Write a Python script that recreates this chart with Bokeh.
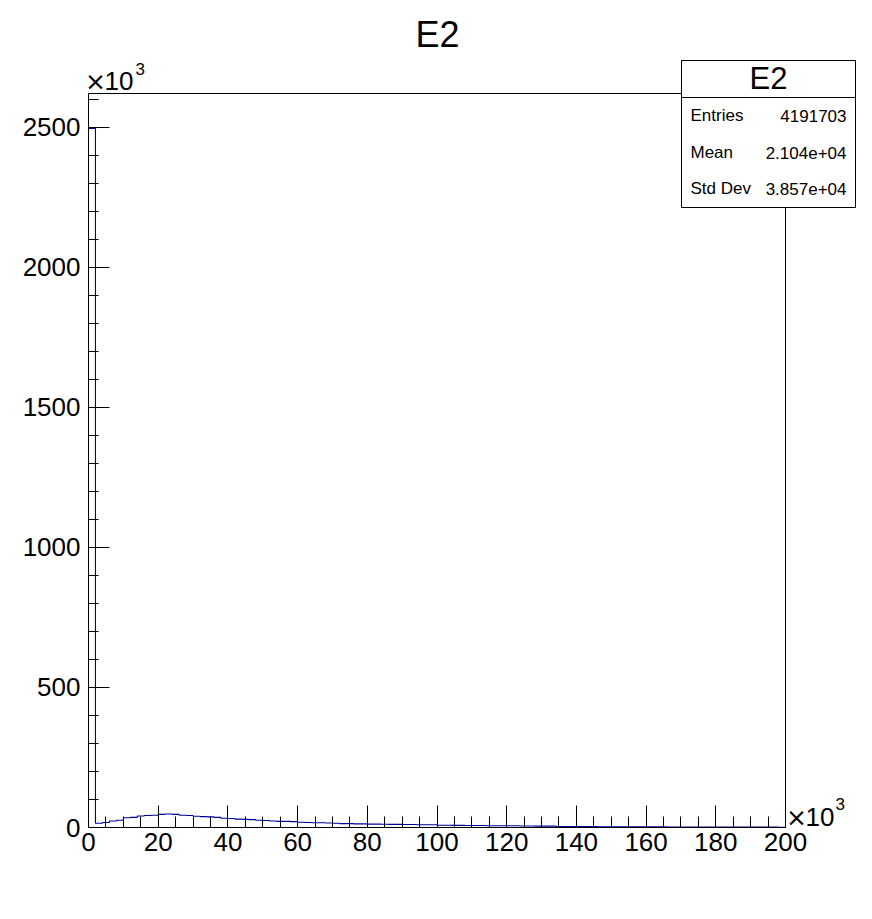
import numpy as np
from bokeh.plotting import figure
from bokeh.layouts import column
from bokeh.models import Label, BoxAnnotation, Range1d, FixedTicker, LinearAxis
from bokeh.embed import file_html
from bokeh.resources import INLINE

# ---------------- data (x in units of 10^3, counts in units of 10^3) ----------------
hist_title = "E2"
x_min, x_max, n_bins = 0, 200, 100
counts = [
    2496, 15, 18, 23, 26, 35, 36, 41, 43, 44,
    47, 48, 47, 44, 43, 40, 39, 38, 36, 33,
    32, 30, 29, 28, 26, 25, 23, 22, 22, 21,
    19, 18, 17, 17, 16, 15, 14, 14, 13, 13,
    12, 12, 11.5, 11, 11, 10.5, 10.5, 10, 10, 10,
    8, 8, 7.5, 7.5, 7, 7, 7, 6.5, 6.5, 6,
    6, 6, 5.5, 5.5, 5, 5, 5, 3.5, 3.5, 3.3,
    3.2, 3.1, 3.0, 2.9, 2.8, 2.7, 2.6, 2.5, 2.4, 2.3,
    2.2, 2.2, 2.1, 2.0, 2.0, 1.9, 1.8, 1.8, 1.7, 1.6,
    1.6, 1.5, 1.5, 1.4, 1.4, 1.3, 1.3, 1.2, 1.2, 1.1,
]
x_ticks = [0, 20, 40, 60, 80, 100, 120, 140, 160, 180, 200]
x_minor = list(range(0, 201, 5))
y_ticks = [0, 500, 1000, 1500, 2000, 2500]
y_minor = list(range(0, 2601, 100))
y_top = 2621
stats_names = ["Entries", "Mean", "Std Dev"]
stats_values = ["4191703", "2.104e+04", "3.857e+04"]

FONT = "Liberation Sans"

# ---------------- geometry (canvas pixels) ----------------
FL, FR, FT, FB = 88, 785, 93, 827
W, H = 856, 903

p = figure(width=W, height=H, x_range=Range1d(x_min, x_max), y_range=Range1d(0, y_top),
           output_backend="svg", toolbar_location=None, title=None,
           min_border_left=FL, min_border_right=W - FR,
           min_border_top=FT, min_border_bottom=H - FB)
p.outline_line_color = None
p.background_fill_color = "white"
p.border_fill_color = "white"
p.grid.visible = False

xa = p.below[0]
ya = p.left[0]
xa.ticker = FixedTicker(ticks=x_ticks, minor_ticks=x_minor)
ya.ticker = FixedTicker(ticks=y_ticks, minor_ticks=y_minor)
for ax, maj, mnr in ((xa, 22, 11), (ya, 21, 10)):
    ax.major_tick_in = maj
    ax.major_tick_out = 0
    ax.minor_tick_in = mnr
    ax.minor_tick_out = 0
    ax.axis_line_color = "black"
    ax.major_tick_line_color = "black"
    ax.minor_tick_line_color = "black"
    ax.major_label_text_font = FONT
    ax.major_label_text_font_size = "26px"
    ax.major_label_text_color = "black"
xa.major_label_standoff = 5
ya.major_label_standoff = 8

for loc in ("above", "right"):
    fa = LinearAxis(ticker=FixedTicker(ticks=[]), major_label_text_font_size="0px",
                    axis_line_color="black", major_tick_line_color=None,
                    minor_tick_line_color=None)
    p.add_layout(fa, loc)

# histogram outline
edges = np.linspace(x_min, x_max, n_bins + 1)
xs = [edges[0]]
ys = [0.0]
for i, c in enumerate(counts):
    xs += [edges[i], edges[i + 1]]
    ys += [c, c]
p.line(xs, ys, line_color="#000099", line_width=1.1)

# ---------------- transparent overlay for texts outside the frame ----------------
q = figure(width=W, height=H, x_range=Range1d(0, W), y_range=Range1d(H, 0),
           x_axis_location=None, y_axis_location=None, min_border=0,
           output_backend="svg", toolbar_location=None, title=None,
           margin=(-H, 0, 0, 0))
try:
    q.frame_align = False
except Exception:
    pass
q.background_fill_alpha = 0
q.border_fill_alpha = 0
q.outline_line_color = None
q.grid.visible = False


def label(x, y, text, size, align="left", font=FONT):
    q.add_layout(Label(x=x, y=y, text=text,
                       text_align=align, text_baseline="middle", text_font=font,
                       text_font_size=size, text_color="black"))


# title
label(437, 34, hist_title, "36px", align="center")

# x10^3 exponents
for (mx, nx, cy, sx, scy) in ((95, 104, 80, 135, 68), (796, 805, 816, 835, 803)):
    label(mx, cy + 1, "×", "25px", align="center", font="DejaVu Sans")
    label(nx, cy, "10", "26px")
    label(sx, scy, "3", "17px")

# stats box
box_kw = dict(line_color="black", line_width=1, line_alpha=1.0)
q.add_layout(BoxAnnotation(left=681, right=855, top=60, bottom=207,
                           fill_color="white", fill_alpha=1.0, **box_kw))
q.add_layout(BoxAnnotation(left=681, right=855, top=60, bottom=97,
                           fill_alpha=0.0, **box_kw))
label(768, 78, hist_title, "31px", align="center")
row_centers = [115, 152, 188]
for name, val, cy in zip(stats_names, stats_values, row_centers):
    label(690, cy, name, "17px")
    label(846, cy, val, "17px", align="right")

page = column(p, q, spacing=0)
open("out.html", "w").write(file_html(page, INLINE))
